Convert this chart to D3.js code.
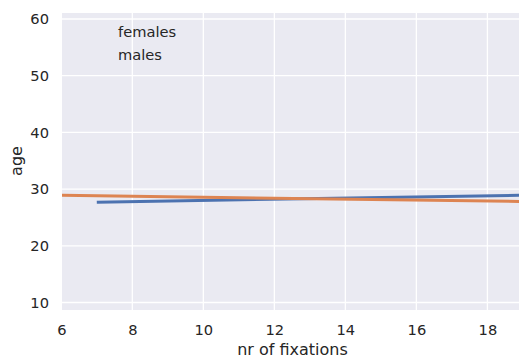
<!DOCTYPE html>
<html>
<head>
<meta charset="utf-8">
<script src="https://cdn.jsdelivr.net/npm/d3@7/dist/d3.min.js"></script>
<style>
  body { margin: 0; background: #fff; }
  svg { display: block; font-family: "DejaVu Sans", sans-serif; }
</style>
</head>
<body>
<svg id="chart" width="519" height="358"></svg>
<script>
// Regression fits of age against number of fixations, one per group
const groups = ["males", "females"];
const legendLabels = ["females", "males"];
const fitX = {
  males: [7, 19.2],
  females: [6, 19.2]
};
const fitAge = {
  males: [27.7, 28.95],
  females: [28.9, 27.8]
};
const xTicks = [6, 8, 10, 12, 14, 16, 18];
const yTicks = [10, 20, 30, 40, 50, 60];
const colors = { males: "#4c72b0", females: "#dd8452" };

(function draw() {
  const svg = d3.select("#chart");
  const mLeft = 62, mRight = 519, mTop = 13, mBottom = 310;
  const tickFont = "14.67px";

  const x = d3.scaleLinear().domain([6.02, 18.89]).range([mLeft, mRight]);
  const y = d3.scaleLinear().domain([8.68, 61.06]).range([mBottom, mTop]);

  svg.append("defs").append("clipPath").attr("id", "plotclip")
    .append("rect").attr("x", mLeft).attr("y", mTop)
    .attr("width", mRight - mLeft).attr("height", mBottom - mTop);

  svg.append("rect").attr("x", mLeft).attr("y", mTop)
    .attr("width", mRight - mLeft).attr("height", mBottom - mTop)
    .attr("fill", "#eaeaf2");

  // Grid lines
  const grid = svg.append("g");
  grid.selectAll(".gx").data(xTicks).join("line").attr("class", "gx")
    .attr("x1", d => x(d)).attr("x2", d => x(d))
    .attr("y1", mTop).attr("y2", mBottom)
    .attr("stroke", "#fff").attr("stroke-width", 1.3);
  grid.selectAll(".gy").data(yTicks).join("line").attr("class", "gy")
    .attr("x1", mLeft).attr("x2", mRight)
    .attr("y1", d => y(d)).attr("y2", d => y(d))
    .attr("stroke", "#fff").attr("stroke-width", 1.3);

  // Axes (labels only, no domain line or tick marks)
  const xAxis = svg.append("g").attr("transform", `translate(0,${mBottom})`)
    .call(d3.axisBottom(x).tickValues(xTicks).tickSize(0).tickPadding(15));
  const yAxis = svg.append("g").attr("transform", `translate(${mLeft},0)`)
    .call(d3.axisLeft(y).tickValues(yTicks).tickSize(0).tickPadding(13));
  [xAxis, yAxis].forEach(a => {
    a.select(".domain").remove();
    a.selectAll("text").attr("fill", "#262626")
      .style("font-size", tickFont).style("font-family", "DejaVu Sans, sans-serif");
  });

  // Fit lines
  const line = d3.line().x(d => x(d[0])).y(d => y(d[1]));
  const plot = svg.append("g").attr("clip-path", "url(#plotclip)");
  groups.forEach(g => {
    const pts = fitX[g].map((v, i) => [v, fitAge[g][i]]);
    plot.append("path").datum(pts)
      .attr("d", line)
      .attr("fill", "none")
      .attr("stroke", colors[g])
      .attr("stroke-width", 3);
  });

  // Legend text
  svg.append("g").selectAll("text").data(legendLabels).join("text")
    .attr("x", 118).attr("y", (d, i) => 37 + i * 22.5)
    .attr("fill", "#262626")
    .style("font-size", tickFont)
    .text(d => d);

  // Axis titles
  svg.append("text").attr("x", 292.5).attr("y", 355)
    .attr("text-anchor", "middle").attr("fill", "#262626")
    .style("font-size", "16px").text("nr of fixations");
  svg.append("text").attr("transform", `translate(22,161)rotate(-90)`)
    .attr("text-anchor", "middle").attr("fill", "#262626")
    .style("font-size", "16px").text("age");
})();
</script>
</body>
</html>
